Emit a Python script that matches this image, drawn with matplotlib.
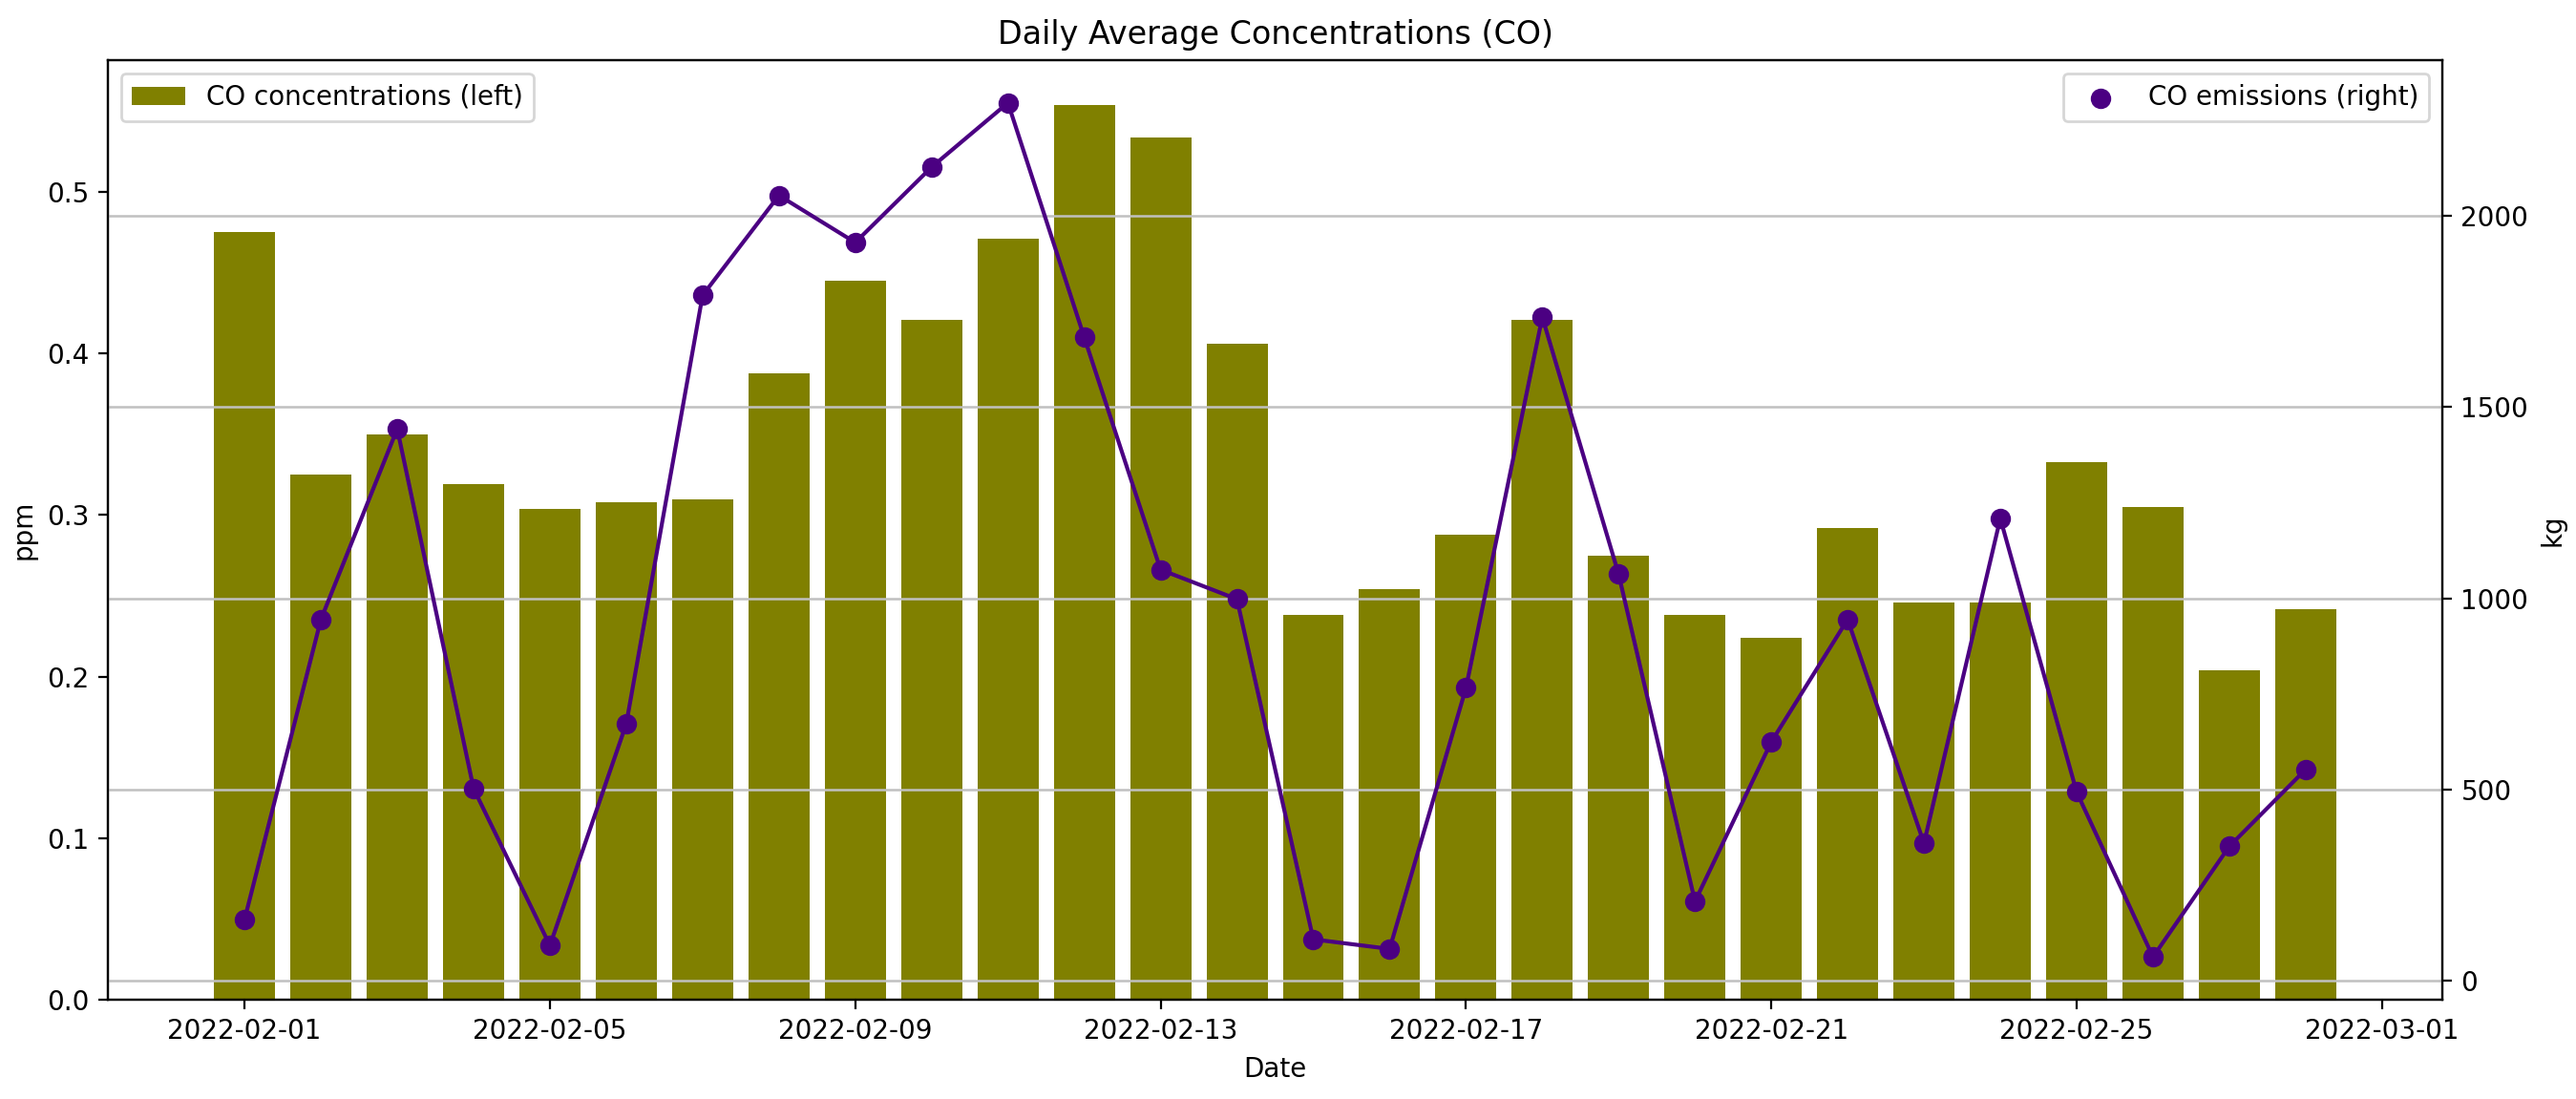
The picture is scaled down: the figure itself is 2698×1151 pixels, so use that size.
"""
Daily average CO concentrations (bars, left axis) against daily CO
emissions (line + dots, right axis) for February 2022.
"""

import pandas as pd
import matplotlib
matplotlib.use('Agg')
import matplotlib.pyplot as plt

# --- DATA ---
dates = pd.date_range('2022-02-01', '2022-02-28', freq='D')

co_ppm = [0.475, 0.325, 0.350, 0.319, 0.304, 0.308, 0.310,
          0.388, 0.445, 0.421, 0.471, 0.554, 0.534, 0.406,
          0.238, 0.254, 0.288, 0.421, 0.275, 0.238, 0.224,
          0.292, 0.246, 0.246, 0.333, 0.305, 0.204, 0.242]

co_kg = [161, 945, 1443, 503, 93, 672, 1792,
         2053, 1930, 2127, 2295, 1682, 1075, 998,
         109, 84, 766, 1735, 1063, 208, 625,
         945, 360, 1209, 494, 63, 352, 553]

bar_color = '#808000'
line_color = '#4b0082'


def plot_co():
    fig = plt.figure(figsize=(13.49, 5.755), dpi=200)
    ax = fig.add_axes([0.0419, 0.0904, 0.9062, 0.8549])

    ax.bar(dates, co_ppm, width=0.8, color=bar_color, label='CO concentrations (left)')
    ax.set_ylabel('ppm')
    ax.set_xlabel('Date')
    ax.set_title('Daily Average Concentrations (CO)')
    ax.legend(loc='upper left')

    ax2 = ax.twinx()
    ax2.plot(dates, co_kg, color=line_color, linewidth=1.5)
    ax2.scatter(dates, co_kg, color=line_color, s=45, zorder=3, label='CO emissions (right)')
    ax2.set_ylabel('kg')
    ax2.grid(True, axis='y', color='#c0c0c0', linewidth=0.9)
    ax2.legend(loc='upper right')

    plt.savefig('out.png', dpi=200)


if __name__ == '__main__':
    plot_co()
